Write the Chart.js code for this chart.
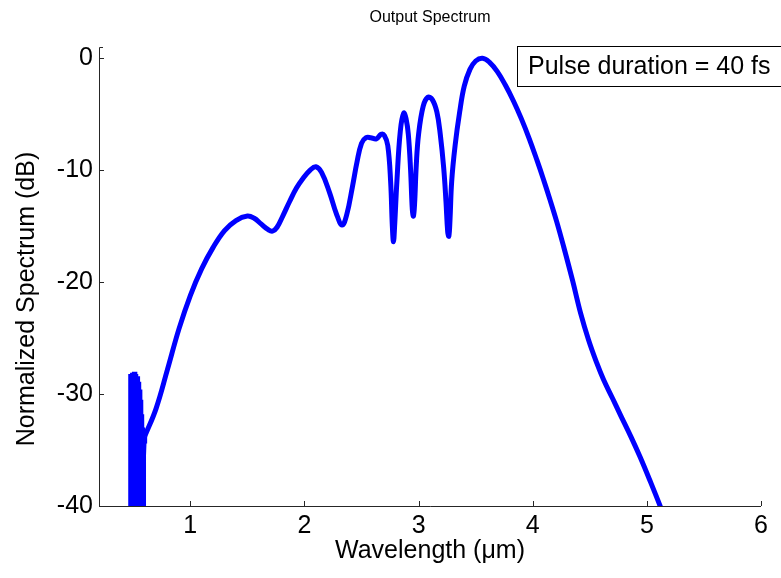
<!DOCTYPE html>
<html>
<head>
<meta charset="utf-8">
<script src="https://cdn.jsdelivr.net/npm/chart.js@4/dist/chart.umd.min.js"></script>
<style>
  html, body { margin: 0; padding: 0; background: #fff; }
  #wrap { width: 781px; height: 578px; }
</style>
</head>
<body>
<div id="wrap"><canvas id="spectrum" width="781" height="578"></canvas></div>
<script>
// wavelength in um, spectrum in dB
// noisy short-wavelength edge
const noiseWavelength = [
  0.474, 0.478, 0.482, 0.486, 0.490, 0.494, 0.498, 0.502, 0.506, 0.510, 0.514, 0.518,
  0.522, 0.526, 0.530, 0.534, 0.538, 0.542, 0.546, 0.550, 0.554, 0.558, 0.562, 0.566,
  0.570, 0.574, 0.578, 0.582, 0.586, 0.590, 0.595, 0.60
];
const noiseSpectrum = [
  -41, -28.2, -41, -28.4, -41, -28.1, -41, -28.3, -41, -28.0, -41, -28.2,
  -41, -28.5, -41, -28.4, -41, -28.9, -41, -29.1, -41, -29.6, -41, -30.5,
  -41, -31.8, -41, -33.0, -41, -35.5, -34.2, -33.8
];
// main spectrum
const wavelength = [
  0.60, 0.70, 0.80, 0.90, 1.00, 1.10, 1.20, 1.30, 1.40,
  1.50, 1.56, 1.62, 1.68, 1.72, 1.76, 1.81, 1.87, 1.93, 1.99, 2.05, 2.10, 2.15,
  2.22, 2.28, 2.33, 2.37, 2.42, 2.46, 2.50, 2.54, 2.58, 2.63, 2.67, 2.70, 2.73, 2.755,
  2.77, 2.78, 2.79, 2.81, 2.84, 2.87, 2.89, 2.91, 2.93, 2.945, 2.955, 2.965, 2.98, 3.00,
  3.04, 3.08, 3.12, 3.16, 3.19, 3.22, 3.24, 3.255, 3.265, 3.275, 3.29, 3.32, 3.36, 3.40,
  3.45, 3.50, 3.56, 3.62, 3.69, 3.76, 3.83, 3.90, 3.97, 4.04, 4.09, 4.15, 4.21, 4.27,
  4.35, 4.42, 4.49, 4.56, 4.62, 4.70, 4.77, 4.86, 4.94, 5.03, 5.12, 5.20
];
const spectrum = [
  -33.8, -31.3, -27.8, -24.2, -21.2, -18.8, -16.9, -15.4, -14.5,
  -14.1, -14.3, -14.8, -15.3, -15.45, -15.1, -14.1, -12.8, -11.6, -10.7, -10.0, -9.7, -10.2,
  -12.0, -13.9, -14.9, -14.0, -11.5, -9.3, -7.6, -7.1, -7.1, -7.2, -6.8, -6.9, -7.8, -11,
  -15, -16.4, -15, -11, -6.5, -4.9, -5.4, -6.8, -10, -13.5, -14.1, -13, -9.5, -6.8,
  -4.3, -3.5, -3.7, -4.8, -6.8, -9.8, -12.8, -15.5, -15.9, -14.5, -11, -7.8, -4.8, -2.5,
  -1.0, -0.25, 0, -0.35, -1.2, -2.4, -3.8, -5.4, -7.2, -9.2, -10.7, -12.6, -14.6, -16.8,
  -19.9, -22.8, -25.2, -27.2, -28.7, -30.4, -31.9, -33.8, -35.6, -37.8, -40.1, -42.3
];
const xTicks = [1, 2, 3, 4, 5, 6];
const yTicks = [-40, -30, -20, -10, 0];
const seriesLabel = 'Pulse duration = 40 fs';

const fontFamily = '"Liberation Sans", Arial, sans-serif';
const blue = '#0000ff';

// matlab style axes: left + bottom lines, small inward ticks, title, y label and legend box
const matlabAxes = {
  id: 'matlabAxes',
  afterDraw(chart) {
    const { ctx, chartArea: a, scales: { x, y } } = chart;
    ctx.save();
    ctx.strokeStyle = '#262626';
    ctx.lineWidth = 1;
    ctx.beginPath();
    ctx.moveTo(a.left + 4, a.top + 0.5);
    ctx.lineTo(a.left + 0.5, a.top + 0.5);
    ctx.lineTo(a.left + 0.5, a.bottom + 0.5);
    ctx.lineTo(a.right, a.bottom + 0.5);
    x.ticks.forEach(t => {
      const px = Math.round(x.getPixelForValue(t.value)) + 0.5;
      ctx.moveTo(px, a.bottom);
      ctx.lineTo(px, a.bottom - 5);
    });
    y.ticks.forEach(t => {
      const py = Math.round(y.getPixelForValue(t.value)) + 0.5;
      ctx.moveTo(a.left, py);
      ctx.lineTo(a.left + 5, py);
    });
    ctx.stroke();

    ctx.fillStyle = '#000';
    ctx.textAlign = 'center';
    ctx.textBaseline = 'middle';

    // title
    ctx.font = '16px ' + fontFamily;
    ctx.fillText('Output Spectrum', (a.left + a.right) / 2, 18);

    // y axis label
    ctx.save();
    ctx.translate(27, 299);
    ctx.rotate(-Math.PI / 2);
    ctx.font = '25px ' + fontFamily;
    ctx.fillText('Normalized Spectrum (dB)', 0, 0);
    ctx.restore();

    // legend box
    ctx.fillStyle = '#fff';
    ctx.fillRect(517, 46, 300, 40);
    ctx.strokeStyle = '#000';
    ctx.strokeRect(517.5, 46.5, 300, 40);
    ctx.fillStyle = '#000';
    ctx.font = '25px ' + fontFamily;
    ctx.textAlign = 'left';
    ctx.fillText(seriesLabel, 528, 67);
    ctx.restore();
  }
};

new Chart(document.getElementById('spectrum'), {
  type: 'line',
  data: {
    datasets: [{
      label: seriesLabel,
      data: wavelength.map((w, i) => ({ x: w, y: spectrum[i] })),
      borderColor: blue,
      borderWidth: 5,
      pointRadius: 0,
      tension: 0.4,
      clip: 0
    }, {
      label: 'noise',
      data: noiseWavelength.map((w, i) => ({ x: w, y: noiseSpectrum[i] })),
      borderColor: blue,
      borderWidth: 5,
      pointRadius: 0,
      tension: 0,
      clip: 0
    }]
  },
  options: {
    responsive: false,
    animation: false,
    layout: { padding: { top: 47, right: 20, left: 0, bottom: 0 } },
    plugins: {
      legend: { display: false },
      title: { display: false },
      tooltip: { enabled: false }
    },
    scales: {
      x: {
        type: 'linear',
        min: 0.2,
        max: 6,
        afterFit: s => { s.height = 72; },
        afterBuildTicks: s => { s.ticks = xTicks.map(v => ({ value: v })); },
        grid: { display: false, drawTicks: false },
        border: { display: false },
        ticks: { padding: 5, color: '#000', font: { size: 25, family: fontFamily } },
        title: {
          display: true,
          text: 'Wavelength (μm)',
          color: '#000',
          font: { size: 25, family: fontFamily },
          padding: { top: 0, bottom: 12 }
        }
      },
      y: {
        min: -40,
        max: 1,
        afterFit: s => { s.width = 99; },
        afterBuildTicks: s => { s.ticks = yTicks.map(v => ({ value: v })); },
        grid: { display: false, drawTicks: false },
        border: { display: false },
        ticks: { padding: 6, color: '#000', font: { size: 25, family: fontFamily } }
      }
    }
  },
  plugins: [matlabAxes]
});
</script>
</body>
</html>
